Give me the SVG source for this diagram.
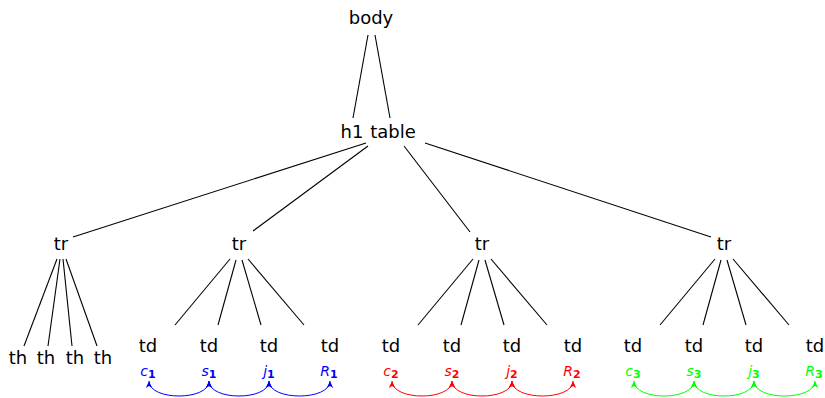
<svg xmlns="http://www.w3.org/2000/svg" width="825" height="398" viewBox="0 0 825 398">
<style>
.n{font-family:"DejaVu Sans","Liberation Sans",sans-serif;font-size:18px;fill:#000;text-anchor:middle}
.e line{stroke:#000;stroke-width:1.1}
.lb{font-family:"DejaVu Sans","Liberation Sans",sans-serif;font-size:14px;font-style:italic;text-anchor:middle}
.sub{font-style:normal;font-weight:bold;font-size:11px}
.a{fill:none;stroke-width:1}
</style>
<defs>
<marker id="hb" viewBox="0 0 8 8" refX="7" refY="4" markerWidth="8" markerHeight="8" markerUnits="userSpaceOnUse" orient="auto-start-reverse"><path d="M0,0.8 L7,4 L0,7.2 L2,4 Z" fill="#0000ff"/></marker>
<marker id="hr" viewBox="0 0 8 8" refX="7" refY="4" markerWidth="8" markerHeight="8" markerUnits="userSpaceOnUse" orient="auto-start-reverse"><path d="M0,0.8 L7,4 L0,7.2 L2,4 Z" fill="#ff0000"/></marker>
<marker id="hg" viewBox="0 0 8 8" refX="7" refY="4" markerWidth="8" markerHeight="8" markerUnits="userSpaceOnUse" orient="auto-start-reverse"><path d="M0,0.8 L7,4 L0,7.2 L2,4 Z" fill="#00ff00"/></marker>
</defs>
<g id="edges" class="e">
<line x1="368" y1="35" x2="353" y2="118"/>
<line x1="375" y1="35" x2="390" y2="118"/>
<line x1="366" y1="143" x2="73" y2="237"/>
<line x1="368" y1="146" x2="253" y2="231"/>
<line x1="404" y1="146" x2="470" y2="232"/>
<line x1="425" y1="143" x2="711" y2="237"/>
<line x1="57" y1="259" x2="24" y2="346"/>
<line x1="60" y1="259" x2="48" y2="346"/>
<line x1="63" y1="259" x2="72" y2="346"/>
<line x1="66" y1="259" x2="97" y2="346"/>
<line x1="230" y1="259" x2="175" y2="325"/>
<line x1="236" y1="260" x2="218" y2="325"/>
<line x1="242" y1="260" x2="261" y2="325"/>
<line x1="248" y1="259" x2="304" y2="325"/>
<line x1="473" y1="259" x2="418" y2="325"/>
<line x1="479" y1="260" x2="461" y2="325"/>
<line x1="485" y1="260" x2="504" y2="325"/>
<line x1="491" y1="259" x2="547" y2="325"/>
<line x1="715" y1="259" x2="660" y2="325"/>
<line x1="721" y1="260" x2="703" y2="325"/>
<line x1="727" y1="260" x2="746" y2="325"/>
<line x1="733" y1="259" x2="789" y2="325"/>
</g>
<g id="body"><text class="n" x="371" y="24">body</text></g>
<g id="h1"><text class="n" x="352" y="138">h1</text></g>
<g id="table"><text class="n" x="393" y="138">table</text></g>
<g id="tr1"><text class="n" x="61" y="250">tr</text></g>
<g id="tr2"><text class="n" x="239" y="250">tr</text></g>
<g id="tr3"><text class="n" x="482" y="250">tr</text></g>
<g id="tr4"><text class="n" x="724" y="250">tr</text></g>
<g id="th1"><text class="n" x="18" y="364">th</text></g>
<g id="th2"><text class="n" x="46" y="364">th</text></g>
<g id="th3"><text class="n" x="75" y="364">th</text></g>
<g id="th4"><text class="n" x="103" y="364">th</text></g>
<g id="td1"><text class="n" x="148" y="352">td</text></g>
<g id="td2"><text class="n" x="209" y="352">td</text></g>
<g id="td3"><text class="n" x="269" y="352">td</text></g>
<g id="td4"><text class="n" x="330" y="352">td</text></g>
<g id="td5"><text class="n" x="391" y="352">td</text></g>
<g id="td6"><text class="n" x="452" y="352">td</text></g>
<g id="td7"><text class="n" x="512" y="352">td</text></g>
<g id="td8"><text class="n" x="573" y="352">td</text></g>
<g id="td9"><text class="n" x="633" y="352">td</text></g>
<g id="td10"><text class="n" x="694" y="352">td</text></g>
<g id="td11"><text class="n" x="754" y="352">td</text></g>
<g id="td12"><text class="n" x="815" y="352">td</text></g>
<g id="labels1">
<text class="lb" x="148" y="376" fill="#0000ff">c<tspan class="sub" dy="2">1</tspan></text>
<text class="lb" x="209" y="376" fill="#0000ff">s<tspan class="sub" dy="2">1</tspan></text>
<text class="lb" x="269" y="376" fill="#0000ff">j<tspan class="sub" dy="2">1</tspan></text>
<text class="lb" x="329" y="376" fill="#0000ff">R<tspan class="sub" dy="2">1</tspan></text>
</g>
<g id="labels2">
<text class="lb" x="391" y="376" fill="#ff0000">c<tspan class="sub" dy="2">2</tspan></text>
<text class="lb" x="452" y="376" fill="#ff0000">s<tspan class="sub" dy="2">2</tspan></text>
<text class="lb" x="512" y="376" fill="#ff0000">j<tspan class="sub" dy="2">2</tspan></text>
<text class="lb" x="572" y="376" fill="#ff0000">R<tspan class="sub" dy="2">2</tspan></text>
</g>
<g id="labels3">
<text class="lb" x="633" y="376" fill="#00ff00">c<tspan class="sub" dy="2">3</tspan></text>
<text class="lb" x="694" y="376" fill="#00ff00">s<tspan class="sub" dy="2">3</tspan></text>
<text class="lb" x="754" y="376" fill="#00ff00">j<tspan class="sub" dy="2">3</tspan></text>
<text class="lb" x="814" y="376" fill="#00ff00">R<tspan class="sub" dy="2">3</tspan></text>
</g>
<g id="arcs">
<path class="a" stroke="#0000ff" marker-start="url(#hb)" marker-end="url(#hb)" d="M149,381 C149,401 209,401 209,381"/>
<path class="a" stroke="#0000ff" marker-start="url(#hb)" marker-end="url(#hb)" d="M209,381 C209,401 269,401 269,381"/>
<path class="a" stroke="#0000ff" marker-start="url(#hb)" marker-end="url(#hb)" d="M269,381 C269,401 330,401 330,381"/>
<path class="a" stroke="#ff0000" marker-start="url(#hr)" marker-end="url(#hr)" d="M392,381 C392,401 452,401 452,381"/>
<path class="a" stroke="#ff0000" marker-start="url(#hr)" marker-end="url(#hr)" d="M452,381 C452,401 512,401 512,381"/>
<path class="a" stroke="#ff0000" marker-start="url(#hr)" marker-end="url(#hr)" d="M512,381 C512,401 573,401 573,381"/>
<path class="a" stroke="#00ff00" marker-start="url(#hg)" marker-end="url(#hg)" d="M634,381 C634,401 694,401 694,381"/>
<path class="a" stroke="#00ff00" marker-start="url(#hg)" marker-end="url(#hg)" d="M694,381 C694,401 754,401 754,381"/>
<path class="a" stroke="#00ff00" marker-start="url(#hg)" marker-end="url(#hg)" d="M754,381 C754,401 815,401 815,381"/>
</g>
</svg>
